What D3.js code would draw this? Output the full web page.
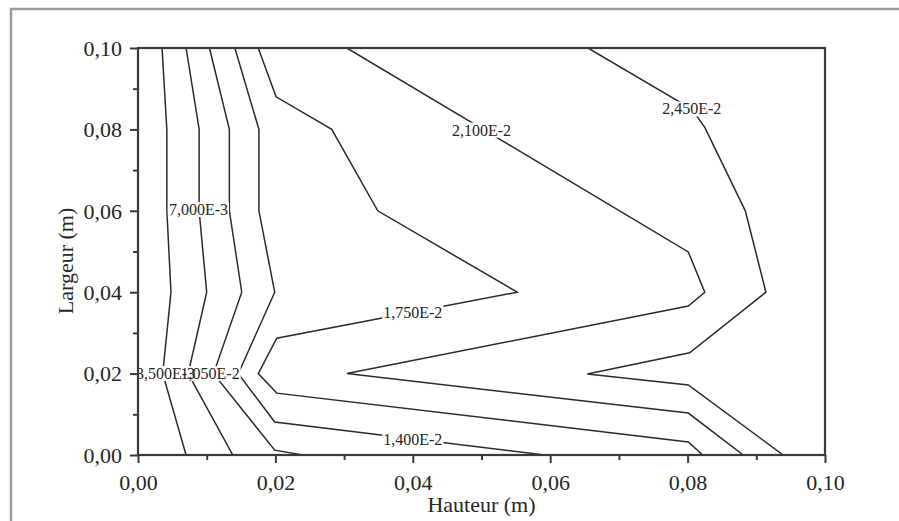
<!DOCTYPE html>
<html>
<head>
<meta charset="utf-8">
<script src="https://cdn.jsdelivr.net/npm/d3@7"></script>
<style>
  html, body { margin: 0; padding: 0; background: #fff; }
  svg { display: block; }
  text { font-family: "Liberation Serif", "DejaVu Serif", serif; }
</style>
</head>
<body>
<svg id="chart" width="899" height="521"></svg>
<script>
// Iso-lines over the section: Hauteur (x, m) vs Largeur (y, m)
const xTicks = [0, 0.02, 0.04, 0.06, 0.08, 0.10];
const xMinor = [0.01, 0.03, 0.05, 0.07, 0.09];
const yTicks = [0, 0.02, 0.04, 0.06, 0.08, 0.10];
const yMinor = [0.01, 0.03, 0.05, 0.07, 0.09];

const levels = ["3,500E-3", "7,000E-3", "1,050E-2", "1,400E-2", "1,750E-2", "2,100E-2", "2,450E-2"];

// vertices [hauteur, largeur] of each iso-line, from top edge to bottom edge
const line3500e3 = [[0.0035,0.10],[0.0042,0.08],[0.0042,0.06],[0.0048,0.04],[0.0036,0.02],[0.0070,0]];
const line7000e3 = [[0.0070,0.10],[0.0089,0.08],[0.0089,0.06],[0.0100,0.04],[0.0073,0.02],[0.0138,0]];
const line1050e2 = [[0.0104,0.10],[0.0133,0.08],[0.0133,0.06],[0.0151,0.04],[0.0110,0.02],[0.0199,0.0012],[0.0240,0]];
const line1400e2 = [[0.0141,0.10],[0.0176,0.08],[0.0176,0.06],[0.0199,0.04],[0.0146,0.02],[0.0199,0.0081],[0.0592,0]];
const line1750e2 = [[0.0175,0.10],[0.0201,0.088],[0.0282,0.08],[0.0349,0.06],[0.0552,0.04],[0.0202,0.0287],[0.0175,0.02],[0.0202,0.0152],[0.0801,0.0032],[0.0822,0]];
const line2100e2 = [[0.0304,0.10],[0.0801,0.0499],[0.0825,0.04],[0.0801,0.0366],[0.0304,0.02],[0.0801,0.0103],[0.0881,0]];
const line2450e2 = [[0.0655,0.10],[0.0806,0.0850],[0.0825,0.0805],[0.0884,0.060],[0.0914,0.040],[0.0803,0.0251],[0.0654,0.0199],[0.0801,0.0172],[0.0939,0]];

const isoLines = [line3500e3, line7000e3, line1050e2, line1400e2, line1750e2, line2100e2, line2450e2];

// where each level's value is written along its line [hauteur, largeur]
const labelAt = [[0.0040,0.02],[0.0088,0.0603],[0.0105,0.02],[0.0400,0.0037],[0.0400,0.0350],[0.0500,0.0798],[0.0806,0.0850]];

const svg = d3.select("#chart");
const padL = 138, padR = 825, padT = 48, padB = 455;

const x = d3.scaleLinear().domain([0, 0.1]).range([padL, padR]);
const y = d3.scaleLinear().domain([0, 0.1]).range([padB, padT]);
const fmt = d => d3.format(".2f")(d).replace(".", ",");

// page frame
svg.append("rect")
  .attr("x", 11).attr("y", 9).attr("width", 1200).attr("height", 1200)
  .attr("fill", "none").attr("stroke", "#9c9c9c").attr("stroke-width", 2.5);

svg.append("defs").append("clipPath").attr("id", "plot")
  .append("rect").attr("x", padL).attr("y", padT)
  .attr("width", padR - padL).attr("height", padB - padT);

const plot = svg.append("g").attr("clip-path", "url(#plot)");

const line = d3.line().x(d => x(d[0])).y(d => y(d[1]));

plot.selectAll("path.iso").data(isoLines).join("path")
  .attr("class", "iso")
  .attr("d", line)
  .attr("fill", "none")
  .attr("stroke", "#2b2b2b")
  .attr("stroke-width", 1.5)
  .attr("stroke-linejoin", "miter");

// level labels: the lines are broken under every label, then the texts go on top
const bgLayer = plot.append("g");
const txtLayer = plot.append("g");
levels.forEach((txt, i) => {
  const t = txtLayer.append("text")
    .attr("x", x(labelAt[i][0]))
    .attr("y", y(labelAt[i][1]))
    .attr("dy", "0.34em")
    .attr("text-anchor", "middle")
    .attr("font-size", 16)
    .attr("fill", "#262626")
    .text(txt);
  const b = t.node().getBBox();
  bgLayer.append("rect").attr("fill", "#fff")
    .attr("x", b.x - 1).attr("y", b.y + 1)
    .attr("width", b.width + 2).attr("height", b.height - 2);
});

// axes
const axisColor = "#3a3a3a";

const xAxis = svg.append("g").attr("transform", `translate(0,${padB})`)
  .call(d3.axisBottom(x).tickValues(xTicks).tickFormat(fmt).tickSize(8).tickSizeOuter(0));
const xAxisMinor = svg.append("g").attr("transform", `translate(0,${padB})`)
  .call(d3.axisBottom(x).tickValues(xMinor).tickFormat("").tickSize(5).tickSizeOuter(0));
const yAxis = svg.append("g").attr("transform", `translate(${padL},0)`)
  .call(d3.axisLeft(y).tickValues(yTicks).tickFormat(fmt).tickSize(8).tickSizeOuter(0));
const yAxisMinor = svg.append("g").attr("transform", `translate(${padL},0)`)
  .call(d3.axisLeft(y).tickValues(yMinor).tickFormat("").tickSize(5).tickSizeOuter(0));

[xAxis, xAxisMinor, yAxis, yAxisMinor].forEach(a => {
  a.select(".domain").remove();
  a.selectAll(".tick line").attr("stroke", axisColor).attr("stroke-width", 2);
  a.selectAll(".tick text")
    .attr("font-family", "'Liberation Serif', serif")
    .attr("font-size", 22)
    .attr("fill", "#262626");
});
xAxis.selectAll(".tick text").attr("y", 35).attr("dy", 0);
yAxis.selectAll(".tick text").attr("x", -16).attr("dy", "0.33em");

// plot frame
svg.append("rect")
  .attr("x", padL).attr("y", padT)
  .attr("width", padR - padL).attr("height", padB - padT)
  .attr("fill", "none").attr("stroke", axisColor).attr("stroke-width", 2.2);

// axis titles
svg.append("text")
  .attr("x", (padL + padR) / 2).attr("y", 512)
  .attr("text-anchor", "middle")
  .attr("font-size", 22).attr("fill", "#262626")
  .text("Hauteur (m)");

svg.append("text")
  .attr("transform", "translate(73,261) rotate(-90)")
  .attr("text-anchor", "middle")
  .attr("font-size", 22).attr("fill", "#262626")
  .text("Largeur (m)");
</script>
</body>
</html>
